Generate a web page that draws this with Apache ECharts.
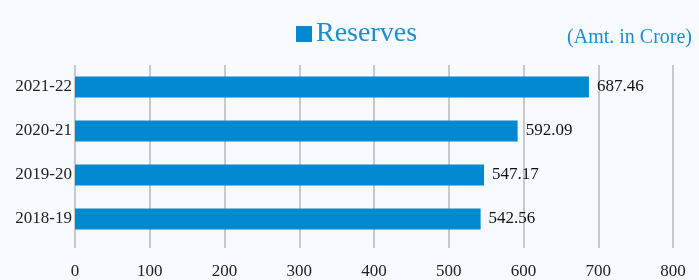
<!DOCTYPE html>
<html><head><meta charset="utf-8">
<script src="https://cdn.jsdelivr.net/npm/echarts@6/dist/echarts.min.js"></script>
<style>html,body{margin:0;padding:0;background:#f7fbff;}#c{width:699px;height:280px;}</style>
</head><body><div id="c"></div>
<script>
const categories = ['2018-19', '2019-20', '2020-21', '2021-22'];
const reserves = [542.56, 547.17, 592.09, 687.46];
const seriesName = 'Reserves';
const unitNote = '(Amt. in Crore)';
const xTicks = { min: 0, max: 800, interval: 100 };

const font = 'Liberation Serif';
const chart = echarts.init(document.getElementById('c'), null, { renderer: 'canvas' });
chart.setOption({
  backgroundColor: '#f7fbff',
  animation: false,
  title: {
    text: unitNote, right: 2, top: 23,
    textStyle: { fontFamily: font, fontSize: 20, fontWeight: 'normal', color: '#1a8fd2' }
  },
  legend: {
    data: [seriesName], left: 291, top: 15,
    icon: 'rect', itemWidth: 16, itemHeight: 16, itemGap: 4,
    textStyle: { fontFamily: font, fontSize: 28, color: '#1a8fd2', padding: [0, 0, 0, -1] }
  },
  grid: { left: 75, top: 65, width: 523.3 * 800 / 700, height: 180, containLabel: false },
  xAxis: {
    type: 'value', min: xTicks.min, max: xTicks.max, interval: xTicks.interval,
    axisLine: { show: false },
    axisTick: { show: true, length: 7, lineStyle: { color: '#c9c9c9', width: 2 } },
    splitLine: { show: true, lineStyle: { color: '#c9c9c9', width: 2 } },
    axisLabel: { fontFamily: font, fontSize: 17, color: '#222', margin: 22 }
  },
  yAxis: {
    type: 'category', data: categories,
    axisLine: { show: false }, axisTick: { show: false },
    axisLabel: { fontFamily: font, fontSize: 17, color: '#222', margin: 3 }
  },
  series: [{
    name: seriesName, type: 'bar', data: reserves, barWidth: 21,
    itemStyle: { color: '#0088d1' },
    label: { show: true, position: 'right', distance: 8, fontFamily: font, fontSize: 17, color: '#111' }
  }]
});
</script></body></html>
